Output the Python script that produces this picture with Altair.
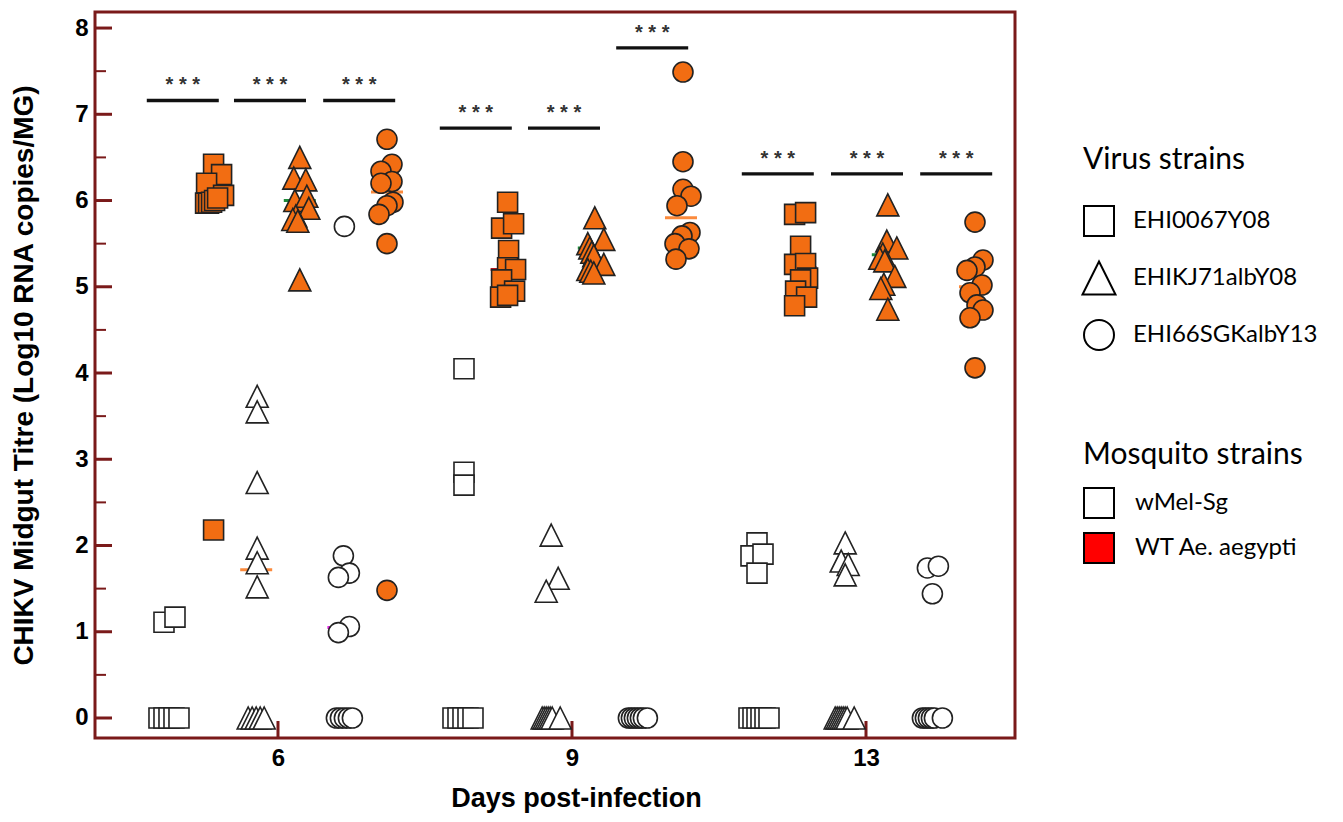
import json
import altair as alt
import pandas as pd

# ---------------- data ----------------
days = ["6", "9", "13"]
viruses = ["EHI0067Y08", "EHIKJ71albY08", "EHI66SGKalbY13"]
mosquitoes = ["wMel-Sg", "WT Ae. aegypti"]

# titres per group (log10 RNA copies / midgut) and horizontal scatter (px) as seen
d6_sq_wmel = [0, 0, 0, 0, 0, 1.11, 1.17]
d6_sq_wmel_j = [-10, -5, 0, 5, 10, -5, 6]
d6_sq_wt = [6.42, 6.30, 6.20, 6.06, 5.97, 5.97, 5.98, 6.00, 6.03, 2.18]
d6_sq_wt_j = [1, 9, -6, 11, -7, -4, -1, 2, 5, 1]
d6_tri_wmel = [0, 0, 0, 0, 0, 3.73, 3.55, 2.73, 1.97, 1.80, 1.52]
d6_tri_wmel_j = [-8, -4, 0, 4, 8, 1, 1, 1, 1, 1, 1]
d6_tri_wt = [6.50, 6.26, 6.24, 6.00, 6.05, 5.91, 5.82, 5.78, 5.76, 5.08]
d6_tri_wt_j = [0, -6, 6, -5, 7, 9, -4, -7, -2, 0]
d6_cir_wmel = [0, 0, 0, 0, 0, 5.70, 1.88, 1.68, 1.63, 1.06, 0.99]
d6_cir_wmel_j = [-7, -3, 1, 5, 9, 1, 0, 6, -5, 6, -5]
d6_cir_wt = [6.71, 6.42, 6.34, 6.22, 6.20, 5.98, 5.94, 5.84, 5.50, 1.48]
d6_cir_wt_j = [0, 5, -6, 5, -6, 6, 0, -8, 0, 0]

d9_sq_wmel = [0, 0, 0, 0, 0, 4.05, 2.85, 2.70]
d9_sq_wmel_j = [-10, -5, 0, 5, 10, 1, 1, 1]
d9_sq_wt = [5.98, 5.68, 5.73, 5.42, 5.22, 5.20, 5.08, 4.95, 4.88, 4.90]
d9_sq_wt_j = [1, -5, 7, 2, 1, 9, -5, 8, -6, 1]
d9_tri_wmel = [0, 0, 0, 0, 0, 0, 0, 2.12, 1.62, 1.47]
d9_tri_wmel_j = [-8, -6, -4, -2, 0, 2, 10, 1, 8, -4]
d9_tri_wt = [5.80, 5.55, 5.50, 5.45, 5.40, 5.36, 5.26, 5.20, 5.18, 5.16]
d9_tri_wt_j = [1, 10, -6, -4, -2, 0, 10, -6, -3, 0]
d9_cir_wmel = [0, 0, 0, 0, 0, 0, 0]
d9_cir_wmel_j = [-9, -6, -3, 0, 3, 6, 10]
d9_cir_wt = [7.49, 6.45, 6.13, 6.05, 5.94, 5.63, 5.59, 5.50, 5.44, 5.32]
d9_cir_wt_j = [2, 2, 2, 10, -4, 9, 1, -6, 8, -5]

d13_sq_wmel = [0, 0, 0, 0, 0, 0, 2.03, 1.88, 1.90, 1.68]
d13_sq_wmel_j = [-8, -4, 0, 4, 8, 12, 0, -6, 6, 0]
d13_sq_wt = [5.84, 5.86, 5.47, 5.26, 5.27, 5.10, 5.08, 4.95, 4.88, 4.78]
d13_sq_wt_j = [-6, 5, 0, -6, 5, 7, 0, -5, 6, -6]
d13_tri_wmel = [0, 0, 0, 0, 0, 0, 0, 0, 2.03, 1.82, 1.78, 1.66]
d13_tri_wmel_j = [-9, -7, -5, -3, -1, 1, 3, 10, 1, -3, 4, 1]
d13_tri_wt = [5.95, 5.53, 5.45, 5.38, 5.33, 5.30, 5.12, 5.03, 4.98, 4.74]
d13_tri_wt_j = [0, -1, 9, -5, -8, -3, 7, -4, -7, 0]
d13_cir_wmel = [0, 0, 0, 0, 0, 0, 1.74, 1.76, 1.44]
d13_cir_wmel_j = [-9, -6, -3, 0, 3, 11, -4, 7, 1]
d13_cir_wt = [5.75, 5.31, 5.23, 5.19, 5.02, 4.93, 4.79, 4.73, 4.64, 4.06]
d13_cir_wt_j = [0, 8, 0, -8, 7, -5, 2, 8, -5, 0]

groups = [
    (0, 0, 0, d6_sq_wmel, d6_sq_wmel_j), (0, 0, 1, d6_sq_wt, d6_sq_wt_j),
    (0, 1, 0, d6_tri_wmel, d6_tri_wmel_j), (0, 1, 1, d6_tri_wt, d6_tri_wt_j),
    (0, 2, 0, d6_cir_wmel, d6_cir_wmel_j), (0, 2, 1, d6_cir_wt, d6_cir_wt_j),
    (1, 0, 0, d9_sq_wmel, d9_sq_wmel_j), (1, 0, 1, d9_sq_wt, d9_sq_wt_j),
    (1, 1, 0, d9_tri_wmel, d9_tri_wmel_j), (1, 1, 1, d9_tri_wt, d9_tri_wt_j),
    (1, 2, 0, d9_cir_wmel, d9_cir_wmel_j), (1, 2, 1, d9_cir_wt, d9_cir_wt_j),
    (2, 0, 0, d13_sq_wmel, d13_sq_wmel_j), (2, 0, 1, d13_sq_wt, d13_sq_wt_j),
    (2, 1, 0, d13_tri_wmel, d13_tri_wmel_j), (2, 1, 1, d13_tri_wt, d13_tri_wt_j),
    (2, 2, 0, d13_cir_wmel, d13_cir_wmel_j), (2, 2, 1, d13_cir_wt, d13_cir_wt_j),
]

# median lines (day, virus, mosquito, value, colour kind)
med_day = [0, 0, 0, 0, 1, 1, 1, 2, 2, 2]
med_virus = [1, 1, 2, 2, 0, 1, 2, 0, 1, 2]
med_mosq = [0, 1, 0, 1, 1, 1, 1, 1, 1, 1]
med_val = [1.72, 6.00, 1.05, 6.10, 5.20, 5.45, 5.80, 5.22, 5.37, 5.00]
med_kind = ["orange", "green", "magenta", "orange", "red", "green", "orange", "red", "green", "orange"]

# significance bars (day, virus pair, height, label)
sig_day = [0, 0, 0, 1, 1, 1, 2, 2, 2]
sig_virus = [0, 1, 2, 0, 1, 2, 0, 1, 2]
sig_y = [7.16, 7.16, 7.16, 6.84, 6.84, 7.77, 6.31, 6.31, 6.31]
sig_shift = [-8, -8, -6, -9, -8, -7, -1, 1, 3]
sig_label = ["* * *"] * 9

y_major = [0, 1, 2, 3, 4, 5, 6, 7, 8]
y_minor = [0.5, 1.5, 2.5, 3.5, 4.5, 5.5, 6.5, 7.5]

# ---------------- geometry / style ----------------
W, H = 920, 726
X_DOM = [-0.6224, 2.5068]
Y_DOM = [-0.232, 8.186]
PXU = W / (X_DOM[1] - X_DOM[0])       # pixels per x unit
SLOT = 43.6 / PXU                    # spacing of the six groups inside a day
FRAME = "#7a1a1a"
ORANGE = "#f26d12"
kind_colors = {"orange": "#fb8a3c", "green": "#1f8a3a", "red": "#b3141c", "magenta": "#e024e0"}
tri_path = "M0,-1.1L1.1,1.1L-1.1,1.1Z"
shape_range = ["square", tri_path, "circle"]

rows = []
for d, v, m, vals, jit in groups:
    slot = v * 2 + m
    for val, j in zip(vals, jit):
        rows.append({"x": d + (slot - 2.5) * SLOT + j / PXU, "y": val,
                     "virus": viruses[v], "mosq": mosquitoes[m]})
pts = pd.DataFrame(rows)

med = pd.DataFrame({
    "xc": [d + ((v * 2 + m) - 2.5) * SLOT for d, v, m in zip(med_day, med_virus, med_mosq)],
    "y": med_val, "kind": med_kind})
med["x"] = med["xc"] - 16 / PXU
med["x2"] = med["xc"] + 16 / PXU

sig = pd.DataFrame({
    "xc": [d + (v * 2 + 0.5 - 2.5) * SLOT + s / PXU for d, v, s in zip(sig_day, sig_virus, sig_shift)],
    "y": sig_y, "label": sig_label})
sig["x"] = sig["xc"] - 36 / PXU
sig["x2"] = sig["xc"] + 36 / PXU

xs = alt.Scale(domain=X_DOM, nice=False, zero=False)
ys = alt.Scale(domain=Y_DOM, nice=False, zero=False)
AF = "Liberation Sans"

x_axis = alt.Axis(values=[0, 1, 2], labelExpr=json.dumps(days) + "[datum.value]",
                  domain=False, ticks=False, tickSize=0, grid=False,
                  labelFont=AF, labelFontWeight="bold", labelFontSize=24, labelColor="black",
                  labelPadding=8, title="Days post-infection", titleFont=AF,
                  titleFontWeight="bold", titleFontSize=27, titleColor="black", titlePadding=15,
                  titleX=481)
y_axis = alt.Axis(values=y_major, format="d", domain=False, ticks=False, tickSize=0, grid=False,
                  labelFont=AF, labelFontWeight="bold", labelFontSize=24, labelColor="black",
                  labelPadding=7, title="CHIKV Midgut Titre (Log10 RNA copies/MG)", titleFont=AF,
                  titleFontWeight="bold", titleFontSize=28, titleColor="black", titlePadding=36)


def X(field):
    return alt.X(field, scale=xs, axis=x_axis)


def Y(field):
    return alt.Y(field, scale=ys, axis=y_axis)


ymaj = alt.Chart(pd.DataFrame({"v": y_major})).mark_rule(color=FRAME, strokeWidth=3).encode(
    y=Y("v:Q"), x=alt.value(0), x2=alt.value(17))
ymin = alt.Chart(pd.DataFrame({"v": y_minor})).mark_rule(color=FRAME, strokeWidth=2).encode(
    y=Y("v:Q"), x=alt.value(0), x2=alt.value(11))
xtk = alt.Chart(pd.DataFrame({"d": [0, 1, 2]})).mark_rule(color=FRAME, strokeWidth=3).encode(
    x=X("d:Q"), y=alt.value(H), y2=alt.value(H - 17))

medians = alt.Chart(med).mark_rule(strokeWidth=3).encode(
    x=X("x:Q"), x2="x2:Q", y=Y("y:Q"),
    color=alt.Color("kind:N", scale=alt.Scale(domain=list(kind_colors), range=list(kind_colors.values())),
                    legend=None))

LEG = dict(orient="none", legendX=988, padding=0, titleFont="Lato", titleFontSize=30,
           titleFontWeight="normal", titleColor="black", titleLimit=400, labelLimit=400,
           labelFont="Lato", labelFontSize=24, labelColor="black", symbolSize=900,
           symbolStrokeColor="black", symbolStrokeWidth=2, symbolOpacity=1)

# invisible layers that only carry the legends (open symbols / red swatch as in the figure)
virus_legend = alt.Chart(pts).mark_point(opacity=0, size=1, filled=False, color="black").encode(
    x=X("x:Q"), y=Y("y:Q"),
    shape=alt.Shape("virus:N", scale=alt.Scale(domain=viruses, range=shape_range),
                    legend=alt.Legend(title="Virus strains", legendY=133, titlePadding=30,
                                      labelOffset=18, rowPadding=17, symbolFillColor="white", **LEG)),
)
mosq_legend = alt.Chart(pts).mark_square(opacity=0, size=1).encode(
    x=X("x:Q"), y=Y("y:Q"),
    fill=alt.Fill("mosq:N", scale=alt.Scale(domain=mosquitoes, range=["#ffffff", "#ff0000"]),
                  legend=alt.Legend(title="Mosquito strains", legendY=428, titlePadding=17,
                                    labelOffset=20, rowPadding=7, symbolType="square", **LEG)),
)

points = alt.Chart(pts).mark_point(filled=True, opacity=1, size=400, stroke="#222222", strokeWidth=1.6).encode(
    x=X("x:Q"), y=Y("y:Q"),
    shape=alt.Shape("virus:N", scale=alt.Scale(domain=viruses, range=shape_range), legend=None),
    fill=alt.condition(alt.datum.mosq == mosquitoes[1], alt.value(ORANGE), alt.value("#ffffff")),
)

bars = alt.Chart(sig).mark_rule(color="#111111", strokeWidth=3.3).encode(
    x=X("x:Q"), x2="x2:Q", y=Y("y:Q"))
stars = alt.Chart(sig).mark_text(font=AF, fontSize=20, fontWeight="bold", color="#333333",
                                 baseline="alphabetic", dy=-9).encode(
    x=X("xc:Q"), y=Y("y:Q"), text="label:N")

chart = alt.layer(ymaj, ymin, xtk, medians, virus_legend, mosq_legend, points, bars, stars).properties(
    width=W, height=H,
    autosize=alt.AutoSizeParams(type="none"),
    padding={"left": 87, "top": 4, "right": 320, "bottom": 76},
).resolve_scale(shape="independent").configure_view(stroke=FRAME, strokeWidth=3)

chart.save("out.html", embed_options={"renderer": "svg", "actions": False})
